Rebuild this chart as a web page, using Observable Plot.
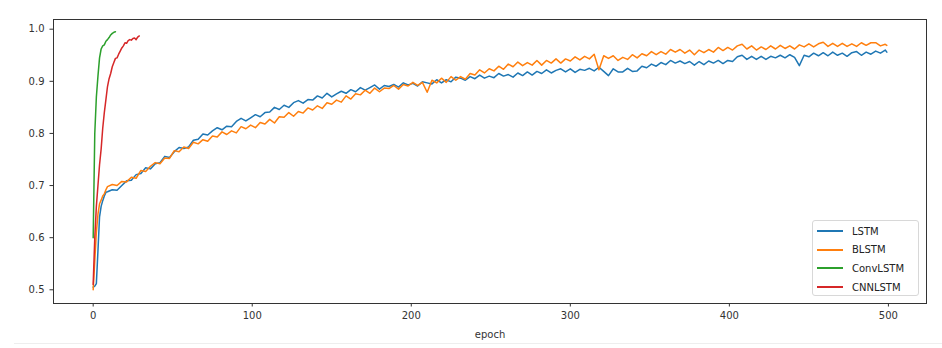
<!DOCTYPE html>
<html>
<head>
<meta charset="utf-8">
<script src="https://cdn.jsdelivr.net/npm/d3@7"></script>
<script src="https://cdn.jsdelivr.net/npm/@observablehq/plot@0.6"></script>
<style>
  body { margin: 0; background: #fff; font-family: "DejaVu Sans", sans-serif; }
  #wrap { position: relative; width: 942px; height: 348px; }
  #legend { position: absolute; left: 812px; top: 220px; width: 107px; height: 76px;
    border: 1px solid #d8d8d8; border-radius: 3px; background: rgba(255,255,255,0.85);
    box-sizing: border-box; font-size: 10px; color: #222; }
  .row { position: absolute; left: 4px; height: 12px; display: flex; align-items: center; }
  .sw { width: 26px; height: 0; border-top: 2px solid; margin-right: 9px; }
  #foot { position: absolute; left: 14px; right: 0; top: 343px; height: 0; border-top: 1px solid #eee; }
</style>
</head>
<body>
<div id="wrap">
  <div id="chart"></div>
  <div id="legend"></div>
  <div id="foot"></div>
</div>
<script>
const seriesNames = ["LSTM", "BLSTM", "ConvLSTM", "CNNLSTM"];
const seriesColors = ["#1f77b4", "#ff7f0e", "#2ca02c", "#d62728"];

const longEpochs = [0,1,2,3,4,5,6,7,8,9,
  12,15,18,21,24,27,30,33,36,39,
  42,45,48,51,54,57,60,63,66,69,
  72,75,78,81,84,87,90,93,96,99,
  102,105,108,111,114,117,120,123,126,129,
  132,135,138,141,144,147,150,153,156,159,
  162,165,168,171,174,177,180,183,186,189,
  192,195,198,201,204,207,210,213,216,219,
  222,225,228,231,234,237,240,243,246,249,
  252,255,258,261,264,267,270,273,276,279,
  282,285,288,291,294,297,300,303,306,309,
  312,315,318,321,324,327,330,333,336,339,
  342,345,348,351,354,357,360,363,366,369,
  372,375,378,381,384,387,390,393,396,399,
  402,405,408,411,414,417,420,423,426,429,
  432,435,438,441,444,447,450,453,456,459,
  462,465,468,471,474,477,480,483,486,489,
  492,495,498,499];

const lstm = [0.505,0.507,0.512,0.575,0.640,0.660,0.671,0.680,0.687,0.688,
  0.692,0.691,0.700,0.709,0.710,0.721,0.723,0.734,0.732,0.742,
  0.744,0.756,0.754,0.765,0.773,0.771,0.774,0.787,0.789,0.799,
  0.797,0.805,0.811,0.807,0.814,0.813,0.823,0.829,0.824,0.830,
  0.836,0.832,0.840,0.841,0.850,0.846,0.854,0.850,0.859,0.863,
  0.858,0.865,0.864,0.872,0.868,0.877,0.870,0.876,0.881,0.877,
  0.884,0.880,0.888,0.883,0.888,0.893,0.885,0.892,0.890,0.894,
  0.889,0.897,0.893,0.896,0.891,0.899,0.897,0.895,0.903,0.897,
  0.903,0.899,0.908,0.906,0.902,0.909,0.905,0.912,0.906,0.910,
  0.907,0.915,0.910,0.913,0.908,0.916,0.911,0.918,0.912,0.919,
  0.915,0.922,0.916,0.921,0.924,0.918,0.924,0.917,0.923,0.921,
  0.925,0.920,0.927,0.919,0.911,0.924,0.918,0.918,0.925,0.919,
  0.920,0.929,0.926,0.933,0.929,0.936,0.932,0.940,0.935,0.939,
  0.934,0.938,0.931,0.938,0.932,0.939,0.935,0.940,0.934,0.940,
  0.938,0.947,0.950,0.942,0.948,0.942,0.948,0.942,0.948,0.945,
  0.950,0.945,0.951,0.946,0.930,0.950,0.947,0.954,0.949,0.955,
  0.949,0.956,0.950,0.954,0.948,0.955,0.957,0.950,0.956,0.952,
  0.958,0.954,0.960,0.956];

const blstm = [0.500,0.556,0.610,0.645,0.665,0.672,0.680,0.684,0.692,0.698,
  0.702,0.700,0.708,0.707,0.716,0.714,0.729,0.727,0.737,0.744,
  0.742,0.753,0.752,0.767,0.765,0.774,0.771,0.783,0.780,0.788,
  0.785,0.795,0.793,0.803,0.798,0.805,0.801,0.813,0.809,0.816,
  0.811,0.821,0.818,0.827,0.820,0.832,0.831,0.840,0.833,0.842,
  0.839,0.849,0.845,0.853,0.848,0.859,0.856,0.864,0.860,0.872,
  0.866,0.876,0.874,0.883,0.877,0.887,0.880,0.887,0.886,0.892,
  0.885,0.894,0.891,0.898,0.892,0.898,0.879,0.902,0.897,0.906,
  0.898,0.909,0.902,0.909,0.904,0.915,0.912,0.922,0.916,0.924,
  0.920,0.929,0.923,0.933,0.928,0.937,0.930,0.936,0.931,0.940,
  0.931,0.940,0.935,0.943,0.935,0.943,0.939,0.947,0.941,0.948,
  0.943,0.952,0.922,0.949,0.944,0.949,0.940,0.946,0.942,0.951,
  0.945,0.953,0.949,0.957,0.951,0.957,0.952,0.961,0.956,0.961,
  0.954,0.960,0.951,0.960,0.955,0.961,0.956,0.965,0.959,0.965,
  0.960,0.968,0.971,0.962,0.968,0.960,0.966,0.961,0.968,0.962,
  0.969,0.963,0.968,0.962,0.970,0.966,0.972,0.966,0.972,0.975,
  0.967,0.973,0.967,0.973,0.967,0.972,0.967,0.974,0.969,0.974,
  0.974,0.968,0.971,0.969];

const convEpochs = [0,1,2,3,4,5,6,7,8,9,10,11,12,13,14];
const convlstm = [0.600,0.800,0.870,0.910,0.945,0.962,0.968,0.970,0.977,0.980,0.984,0.989,0.992,0.994,0.995];

const cnnEpochs = [0,1,2,3,4,5,6,7,8,9,10,11,12,13,14,15,16,17,18,19,20,21,22,23,24,25,26,27,28,29];
const cnnlstm = [0.510,0.600,0.660,0.700,0.740,0.770,0.810,0.840,0.865,0.890,0.905,0.915,0.928,0.936,0.944,0.945,0.952,0.958,0.964,0.968,0.974,0.973,0.978,0.980,0.979,0.982,0.983,0.980,0.985,0.987];

const xTicks = [0, 100, 200, 300, 400, 500];
const yTicks = [0.5, 0.6, 0.7, 0.8, 0.9, 1.0];

const rows = [];
function add(name, xs, ys) { xs.forEach((e, i) => rows.push({series: name, epoch: e, acc: ys[i]})); }
add("LSTM", longEpochs, lstm);
add("BLSTM", longEpochs, blstm);
add("ConvLSTM", convEpochs, convlstm);
add("CNNLSTM", cnnEpochs, cnnlstm);

const chart = Plot.plot({
  width: 942,
  height: 348,
  marginTop: 19,
  marginRight: 16,
  marginBottom: 45,
  marginLeft: 53,
  style: {fontFamily: "DejaVu Sans", fontSize: "10px", color: "#333", background: "#fff"},
  x: {domain: [-24.95, 523.95]},
  y: {domain: [0.4737, 1.0186]},
  color: {domain: seriesNames, range: seriesColors},
  marks: [
    Plot.line(rows, {x: "epoch", y: "acc", z: "series", stroke: "series", strokeWidth: 1.5}),
    Plot.frame({stroke: "#333", strokeWidth: 1}),
    Plot.axisX({ticks: xTicks, tickSize: 3.5, tickPadding: 5, tickFormat: d3.format("d"),
      label: "epoch", labelAnchor: "center", labelOffset: 34, labelArrow: "none"}),
    Plot.axisY({ticks: yTicks, tickSize: 3.5, tickPadding: 5.5, tickFormat: d3.format(".1f"), label: null})
  ]
});
document.getElementById("chart").appendChild(chart);

const legend = document.getElementById("legend");
seriesNames.forEach((n, i) => {
  const r = document.createElement("div");
  r.className = "row";
  r.style.top = (4 + i * 18.7) + "px";
  const sw = document.createElement("span");
  sw.className = "sw";
  sw.style.borderTopColor = seriesColors[i];
  const t = document.createElement("span");
  t.textContent = n;
  r.appendChild(sw); r.appendChild(t);
  legend.appendChild(r);
});
</script>
</body>
</html>
